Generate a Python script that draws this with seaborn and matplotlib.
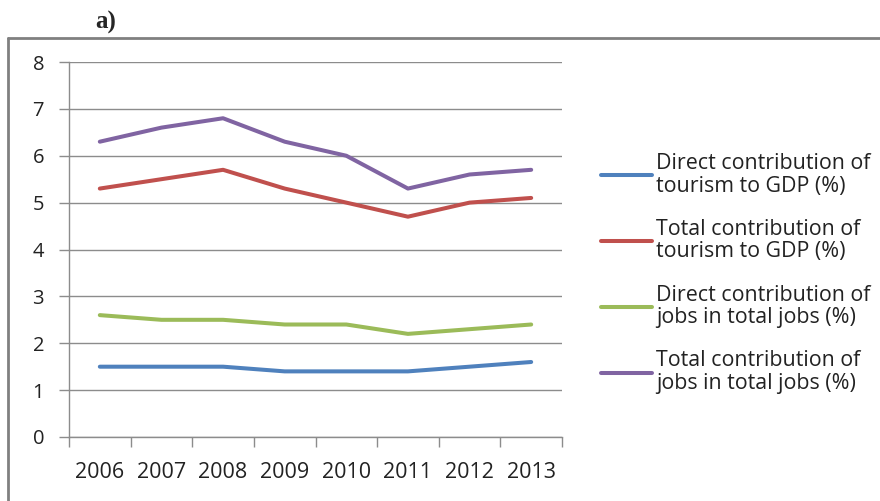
import matplotlib
matplotlib.use("Agg")
import matplotlib.pyplot as plt
import seaborn as sns
import pandas as pd
import numpy as np
from matplotlib.lines import Line2D

years = ["2006", "2007", "2008", "2009", "2010", "2011", "2012", "2013"]
direct_gdp = [1.5, 1.5, 1.5, 1.4, 1.4, 1.4, 1.5, 1.6]
total_gdp = [5.3, 5.5, 5.7, 5.3, 5.0, 4.7, 5.0, 5.1]
direct_jobs = [2.6, 2.5, 2.5, 2.4, 2.4, 2.2, 2.3, 2.4]
total_jobs = [6.3, 6.6, 6.8, 6.3, 6.0, 5.3, 5.6, 5.7]
series_names = [
    "Direct contribution of\ntourism to GDP (%)",
    "Total contribution of\ntourism to GDP (%)",
    "Direct contribution of\njobs in total jobs (%)",
    "Total contribution of\njobs in total jobs (%)",
]
colors = ["#4F81BD", "#C0504D", "#9BBB59", "#8064A2"]

rows = []
for name, vals in zip(series_names, [direct_gdp, total_gdp, direct_jobs, total_jobs]):
    for i, v in enumerate(vals):
        rows.append({"pos": i, "year": years[i], "value": v, "series": name})
df = pd.DataFrame(rows)

sns.set_theme(style="white")
plt.rcParams["font.family"] = ["Open Sans", "DejaVu Sans"]

fig = plt.figure(figsize=(8.8, 5.01), dpi=100)
ax = fig.add_axes([69 / 880, 1 - 437 / 501, (562 - 69) / 880, (437 - 62) / 501])

sns.lineplot(data=df, x="pos", y="value", hue="series", palette=colors,
             linewidth=2.9, ax=ax, legend=False)

ax.set_xlim(-0.5, len(years) - 0.5)
ax.set_ylim(0, 8)
ax.set_yticks(range(0, 9))
ax.yaxis.grid(True, color="#8c8c8c", linewidth=1.0)
ax.xaxis.grid(False)
for s in ["top", "right"]:
    ax.spines[s].set_visible(False)
for s in ["left", "bottom"]:
    ax.spines[s].set_color("#8c8c8c")
    ax.spines[s].set_linewidth(1.0)
ax.set_xticks(np.arange(-0.5, len(years), 1.0))
ax.set_xticklabels([])
ax.set_xticks(np.arange(len(years)), minor=True)
ax.set_xticklabels(years, minor=True)
ax.tick_params(axis="x", which="major", length=7, width=1, color="#8c8c8c", direction="out", bottom=True)
ax.tick_params(axis="x", which="minor", length=0, pad=18, labelsize=15.5, labelcolor="#222222")
ax.tick_params(axis="y", length=7, width=1, color="#8c8c8c", direction="out", left=True,
               pad=11, labelsize=14.5, labelcolor="#222222")
ax.set_xlabel("")
ax.set_ylabel("")

handles = [Line2D([], [], color=c, linewidth=2.9, solid_capstyle="round") for c in colors]
leg = fig.legend(handles, series_names, loc="upper left", bbox_to_anchor=(582 / 880, 1 - 134 / 501),
                 frameon=False, fontsize=15.4, handlelength=2.38, handletextpad=0.19,
                 labelspacing=1.05, labelcolor="#222222")
for t in leg.get_texts():
    t.set_linespacing(1.08)

# border frame
fig.add_artist(Line2D([8 / 880, 1.0], [1 - 38 / 501, 1 - 38 / 501], color="#808080", linewidth=2,
                      transform=fig.transFigure))
fig.add_artist(Line2D([8 / 880, 8 / 880], [0, 1 - 38 / 501], color="#808080", linewidth=2,
                      transform=fig.transFigure))
fig.text(95 / 880, 1 - 22 / 501, "a)", fontsize=18, fontweight="bold",
         family="Liberation Serif", va="center", ha="left")

fig.savefig("out.png", dpi=100, facecolor="white")
